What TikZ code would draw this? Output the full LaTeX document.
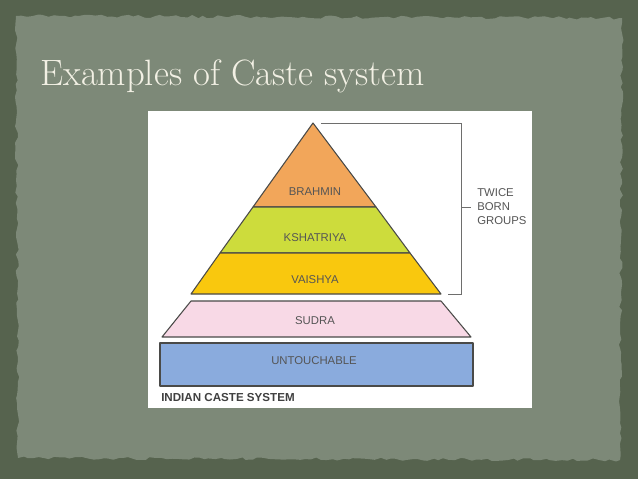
\documentclass[tikz,border=0pt]{standalone}
\usepackage{fontspec}
\newfontfamily\labelfont{Liberation Sans}
\usepackage{tikz}
\usetikzlibrary{positioning, decorations.pathmorphing}

\definecolor{frame}{HTML}{56634E}
\definecolor{paper}{HTML}{7D8978}
\definecolor{titlecol}{HTML}{F2F0E4}
\definecolor{edge}{HTML}{4A4A48}
\definecolor{brahmin}{HTML}{F2A65A}
\definecolor{kshatriya}{HTML}{CDDC3C}
\definecolor{vaishya}{HTML}{F9C80E}
\definecolor{sudra}{HTML}{F8D9E6}
\definecolor{untouch}{HTML}{8AABDD}
\definecolor{txt}{HTML}{555555}

\tikzset{
	layer/.style={draw=edge, line width=0.8pt, line join=round},
	tag/.style={font=\labelfont\fontsize{8.5}{9}\selectfont, text=txt, inner sep=0pt},
	brace/.style={draw=edge!80, line width=0.7pt}
}

\begin{document}
\begin{tikzpicture}[x=0.75pt, y=-0.75pt]
		\useasboundingbox (0,0) rectangle (638,479);
		\fill [frame] (0,0) rectangle (638,479);
		\pgfmathsetseed{7}
		\fill [paper, decorate, decoration={random steps, segment length=4pt, amplitude=1.2pt}]
			(16,16) -- (622,18) -- (620,460) -- (18,458) -- cycle;
		
		\node [anchor=base west, inner sep=0pt, text=titlecol, font=\fontsize{27.5}{30}\selectfont] (title) at (40,85) {Examples of Caste system};
		
		\fill [white] (148,111) rectangle (532,408);
		
		% pyramid
		\coordinate (apex) at (313,123);
		\coordinate (vl) at (191,294);
		\coordinate (vr) at (441,294);
		\draw [layer, fill=brahmin] (apex) -- (376,207) -- (253,207) -- cycle;
		\draw [layer, fill=kshatriya] (253,207) -- (376,207) -- (410,253) -- (220,253) -- cycle;
		\draw [layer, fill=vaishya] (220,253) -- (410,253) -- (vr) -- (vl) -- cycle;
		\draw [layer, fill=sudra] (191,301) -- (441,301) -- (471,337) -- (162,337) -- cycle;
		\draw [layer, fill=untouch] (160,343) rectangle (473,386);
		
		\node [tag] (brahminlbl) at (315,192) {BRAHMIN};
		\node [tag] (kshatriyalbl) at (315,238) {KSHATRIYA};
		\node [tag] (vaishyalbl) at (315,280) {VAISHYA};
		\node [tag] (sudralbl) at (315,321) {SUDRA};
		\node [tag] (untouchlbl) at (314,361) {UNTOUCHABLE};
		
		% twice born bracket
		\coordinate (bt) at (461,123);
		\coordinate (bb) at (461,294);
		\coordinate (bm) at (461,207);
		\draw [brace] (321,123) -- (bt) -- (bb) -- (448,294);
		\node [tag, align=left, anchor=west, font=\labelfont\fontsize{8.5}{10.5}\selectfont] (twice) at (477,207) {TWICE\\BORN\\GROUPS};
		\draw [brace] (bm) -- (twice.west -| 471,0);
		
		\node [anchor=west, inner sep=0pt, text=black!75, font=\labelfont\bfseries\fontsize{8.7}{9}\selectfont] (caption) at (161,397) {INDIAN CASTE SYSTEM};
	\end{tikzpicture}
\end{document}
